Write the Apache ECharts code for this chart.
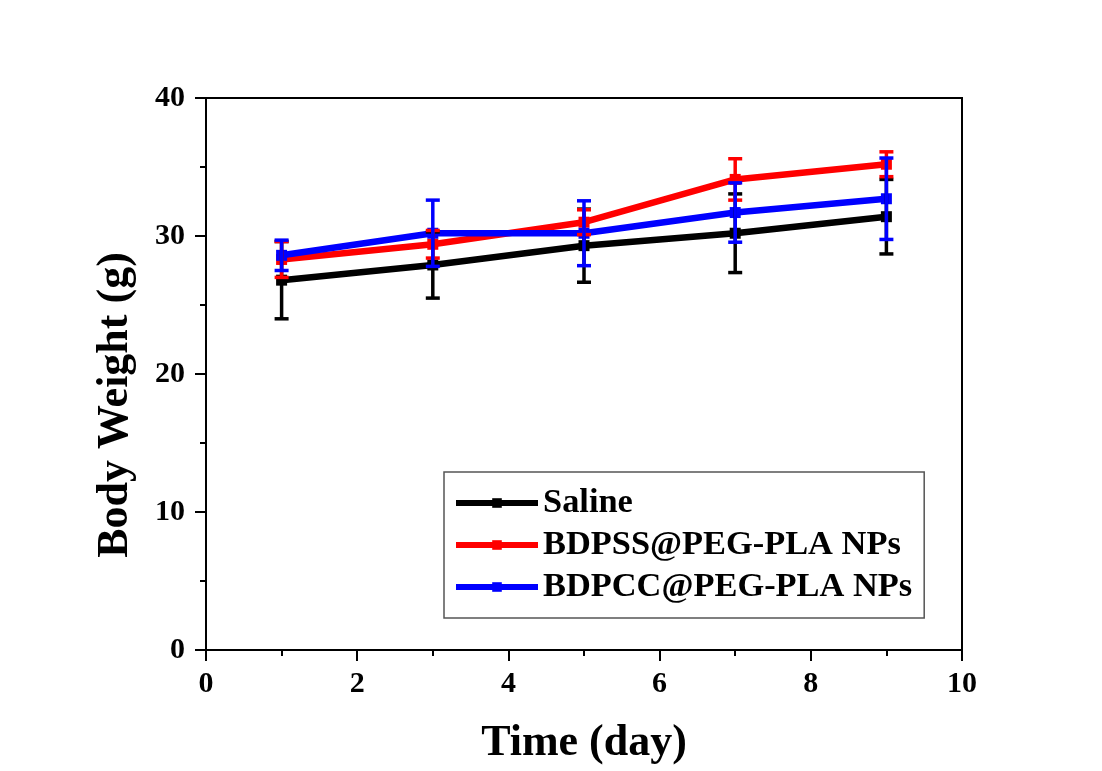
<!DOCTYPE html>
<html>
<head>
<meta charset="utf-8">
<title>Body Weight</title>
<script src="https://cdn.jsdelivr.net/npm/echarts@6/dist/echarts.min.js"></script>
<style>
  html, body { margin: 0; padding: 0; background: #ffffff; }
  #chart { width: 1102px; height: 771px; }
</style>
</head>
<body>
<div id="chart"></div>
<script>
// Sampling days
const days = [1, 3, 5, 7, 9];

// Mean body weight (g) and standard deviation per group
const salineMean = [26.8, 27.9, 29.3, 30.2, 31.4];
const salineErr  = [2.8, 2.4, 2.65, 2.85, 2.7];

const bdpssMean = [28.3, 29.4, 31.0, 34.1, 35.2];
const bdpssErr  = [1.3, 1.0, 0.9, 1.5, 0.9];

const bdpccMean = [28.6, 30.2, 30.2, 31.7, 32.7];
const bdpccErr  = [1.1, 2.4, 2.35, 2.15, 2.95];

const groupNames = ['Saline', 'BDPSS@PEG-PLA NPs', 'BDPCC@PEG-PLA NPs'];
const groupColors = ['#000000', '#ff0000', '#0000ff'];

const FONT = '"Liberation Serif", "Times New Roman", serif';

function pairs(xs, ys) {
  return xs.map((x, i) => [x, ys[i]]);
}

function errorRows(xs, mean, err) {
  return xs.map((x, i) => [x, mean[i] - err[i], mean[i] + err[i]]);
}

function errorBarSeries(name, color, rows, z) {
  return {
    type: 'custom',
    name: name,
    z: z,
    data: rows,
    encode: { x: 0, y: [1, 2] },
    renderItem: function (params, api) {
      const x = api.value(0);
      const lo = api.coord([x, api.value(1)]);
      const hi = api.coord([x, api.value(2)]);
      const half = 7;
      const style = { stroke: color, lineWidth: 3.5, fill: null };
      return {
        type: 'group',
        children: [
          { type: 'line', shape: { x1: lo[0], y1: lo[1], x2: hi[0], y2: hi[1] }, style: style },
          { type: 'line', shape: { x1: hi[0] - half, y1: hi[1], x2: hi[0] + half, y2: hi[1] }, style: style },
          { type: 'line', shape: { x1: lo[0] - half, y1: lo[1], x2: lo[0] + half, y2: lo[1] }, style: style }
        ]
      };
    }
  };
}

function lineSeries(name, color, data, z) {
  return {
    type: 'line',
    name: name,
    z: z,
    data: data,
    symbol: 'rect',
    symbolSize: 11,
    lineStyle: { color: color, width: 6.5 },
    itemStyle: { color: color },
    emphasis: { disabled: true },
    animation: false
  };
}

const chart = echarts.init(document.getElementById('chart'));

chart.setOption({
  backgroundColor: '#ffffff',
  animation: false,
  grid: {
    left: 206, right: 140, top: 98, bottom: 119,
    show: true, borderColor: '#000000', borderWidth: 2,
    backgroundColor: 'transparent'
  },
  xAxis: {
    type: 'value',
    min: 0, max: 10, interval: 2,
    name: 'Time (day)',
    nameLocation: 'middle',
    nameGap: 72,
    nameTextStyle: { fontFamily: FONT, fontWeight: 'bold', fontSize: 44, color: '#000' },
    axisLine: { onZero: false, lineStyle: { color: '#000', width: 2 } },
    axisTick: { inside: false, length: 11, lineStyle: { color: '#000', width: 2 } },
    minorTick: { show: true, splitNumber: 2, length: 6, lineStyle: { color: '#000', width: 2 } },
    axisLabel: { fontFamily: FONT, fontWeight: 'bold', fontSize: 30, color: '#000', margin: 19 },
    splitLine: { show: false },
    minorSplitLine: { show: false }
  },
  yAxis: {
    type: 'value',
    min: 0, max: 40, interval: 10,
    name: 'Body Weight (g)',
    nameLocation: 'middle',
    nameGap: 68,
    nameTextStyle: {
      fontFamily: FONT, fontWeight: 'bold', fontSize: 44, color: '#000',
      padding: [0, 62, 0, 0]
    },
    axisLine: { onZero: false, lineStyle: { color: '#000', width: 2 } },
    axisTick: { inside: false, length: 11, lineStyle: { color: '#000', width: 2 } },
    minorTick: { show: true, splitNumber: 2, length: 6, lineStyle: { color: '#000', width: 2 } },
    axisLabel: { fontFamily: FONT, fontWeight: 'bold', fontSize: 30, color: '#000', margin: 21 },
    splitLine: { show: false },
    minorSplitLine: { show: false }
  },
  legend: {
    orient: 'vertical',
    left: 444,
    top: 472,
    data: groupNames,
    itemWidth: 82,
    itemHeight: 12,
    itemGap: 8,
    padding: [14, 12, 14, 9],
    borderColor: '#555555',
    borderWidth: 1.5,
    backgroundColor: '#ffffff',
    lineStyle: { width: 6 },
    itemStyle: { borderWidth: 0 },
    textStyle: { fontFamily: FONT, fontWeight: 'bold', fontSize: 34.4, color: '#000', lineHeight: 34 },
    selectedMode: false
  },
  series: [
    lineSeries(groupNames[0], groupColors[0], pairs(days, salineMean), 2),
    lineSeries(groupNames[1], groupColors[1], pairs(days, bdpssMean), 3),
    lineSeries(groupNames[2], groupColors[2], pairs(days, bdpccMean), 4),
    errorBarSeries('err-saline', groupColors[0], errorRows(days, salineMean, salineErr), 5),
    errorBarSeries('err-bdpss', groupColors[1], errorRows(days, bdpssMean, bdpssErr), 5),
    errorBarSeries('err-bdpcc', groupColors[2], errorRows(days, bdpccMean, bdpccErr), 5)
  ]
});
</script>
</body>
</html>
